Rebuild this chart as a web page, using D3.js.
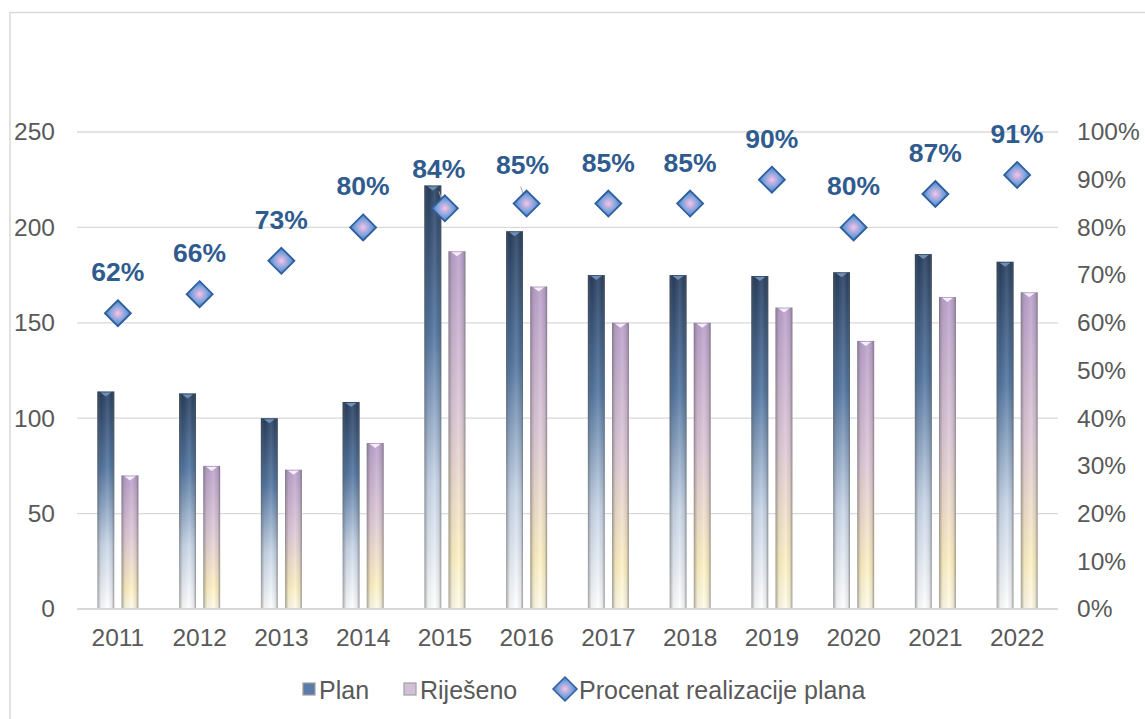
<!DOCTYPE html>
<html>
<head>
<meta charset="utf-8">
<script src="https://cdn.jsdelivr.net/npm/d3@7"></script>
<style>
  body { margin: 0; background: #fff; }
  text { font-family: "Liberation Sans", Arial, sans-serif; }
</style>
</head>
<body>
<div id="chart"></div>
<script>
// data
const years = ["2011", "2012", "2013", "2014", "2015", "2016", "2017", "2018", "2019", "2020", "2021", "2022"];
const plan = [114, 113, 100, 108.5, 222, 198, 175, 175, 174.5, 176.5, 186, 182];
const rijeseno = [70, 75, 73, 87, 187.5, 169, 150, 150, 158, 140.5, 163.5, 166];
const procenat = [62, 66, 73, 80, 84, 85, 85, 85, 90, 80, 87, 91];
const leftTicks = [0, 50, 100, 150, 200, 250];
const rightTicks = [0, 10, 20, 30, 40, 50, 60, 70, 80, 90, 100];

var W = 1145, H = 719;
var margin = {top: 132, right: 87, bottom: 110, left: 77},
    width = W - margin.left - margin.right,
    height = H - margin.top - margin.bottom;

var svg = d3.select("#chart").append("svg")
    .attr("width", W)
    .attr("height", H);

// outer frame (cut off on the right like the original)
svg.append("path")
    .attr("d", "M10," + H + "V12.5H" + W)
    .attr("fill", "none")
    .attr("stroke", "#d9d9d9")
    .attr("stroke-width", 1.5);

var defs = svg.append("defs");

// vertical colour of the bars
var gPlan = defs.append("linearGradient").attr("id", "gPlan")
    .attr("x1", 0).attr("y1", 0).attr("x2", 0).attr("y2", 1);
gPlan.append("stop").attr("offset", "0%").attr("stop-color", "#1d3557");
gPlan.append("stop").attr("offset", "35%").attr("stop-color", "#4a6f9c");
gPlan.append("stop").attr("offset", "70%").attr("stop-color", "#c5d3e6");
gPlan.append("stop").attr("offset", "100%").attr("stop-color", "#ffffff");

var gRij = defs.append("linearGradient").attr("id", "gRij")
    .attr("x1", 0).attr("y1", 0).attr("x2", 0).attr("y2", 1);
gRij.append("stop").attr("offset", "0%").attr("stop-color", "#b79cc9");
gRij.append("stop").attr("offset", "45%").attr("stop-color", "#dcc6d6");
gRij.append("stop").attr("offset", "85%").attr("stop-color", "#fdf0c0");
gRij.append("stop").attr("offset", "100%").attr("stop-color", "#fffbe8");

// side shading, gives the round look
var gSide = defs.append("linearGradient").attr("id", "gSide")
    .attr("x1", 0).attr("y1", 0).attr("x2", 1).attr("y2", 0);
gSide.append("stop").attr("offset", "0%").attr("stop-color", "#555").attr("stop-opacity", 0.55);
gSide.append("stop").attr("offset", "22%").attr("stop-color", "#777").attr("stop-opacity", 0.1);
gSide.append("stop").attr("offset", "60%").attr("stop-color", "#fff").attr("stop-opacity", 0.15);
gSide.append("stop").attr("offset", "85%").attr("stop-color", "#777").attr("stop-opacity", 0.15);
gSide.append("stop").attr("offset", "100%").attr("stop-color", "#555").attr("stop-opacity", 0.6);

// diamond fill, blue with a pink middle
var gDia = defs.append("radialGradient").attr("id", "gDia");
gDia.append("stop").attr("offset", "0%").attr("stop-color", "#f0c8ea");
gDia.append("stop").attr("offset", "25%").attr("stop-color", "#c7b3e2");
gDia.append("stop").attr("offset", "60%").attr("stop-color", "#7ea3dc");
gDia.append("stop").attr("offset", "100%").attr("stop-color", "#4a7fc6");

var g = svg.append("g")
    .attr("transform", "translate(" + margin.left + "," + margin.top + ")");

var x = d3.scaleBand()
    .domain(years)
    .range([0, width]);
var x1 = d3.scaleBand()
    .domain(["plan", "rij"])
    .range([0, 41])
    .paddingInner(0.3);
var y = d3.scaleLinear().domain([0, 250]).range([height, 0]);
var y2 = d3.scaleLinear().domain([0, 100]).range([height, 0]);

// gridlines
g.selectAll(".grid")
    .data(leftTicks.slice(1))
    .enter().append("line")
    .attr("x1", 0).attr("x2", width)
    .attr("y1", d => y(d)).attr("y2", d => y(d))
    .attr("stroke", "#d9d9d9")
    .attr("stroke-width", 1.3);

// left axis
var yAxis = g.append("g")
    .call(d3.axisLeft(y).tickValues(leftTicks).tickSize(0).tickPadding(22));
yAxis.select(".domain").remove();
yAxis.selectAll("text")
    .attr("fill", "#595959")
    .style("font-size", "24.5px");

// right axis
var yAxis2 = g.append("g")
    .attr("transform", "translate(" + width + ",0)")
    .call(d3.axisRight(y2).tickValues(rightTicks).tickSize(0).tickPadding(19)
        .tickFormat(d => d + "%"));
yAxis2.select(".domain").remove();
yAxis2.selectAll("text")
    .attr("fill", "#595959")
    .style("font-size", "24.5px");

// bars
var series = [
    {key: "plan", values: plan, fill: "url(#gPlan)"},
    {key: "rij", values: rijeseno, fill: "url(#gRij)"}
];
var bw = x1.bandwidth();

series.forEach(function (s) {
    var grp = g.append("g").attr("class", "bars-" + s.key);
    var xs = (d, i) => x(years[i]) + x.bandwidth() / 2 - 20.5 + x1(s.key);
    grp.selectAll(".bar")
        .data(s.values)
        .enter().append("rect")
        .attr("class", "bar")
        .attr("x", xs)
        .attr("y", d => y(d))
        .attr("width", bw)
        .attr("height", d => height - y(d))
        .attr("fill", s.fill);
    grp.selectAll(".side")
        .data(s.values)
        .enter().append("rect")
        .attr("x", xs)
        .attr("y", d => y(d))
        .attr("width", bw)
        .attr("height", d => height - y(d))
        .attr("fill", "url(#gSide)");
    // small light notch on the top
    grp.selectAll(".cap")
        .data(s.values)
        .enter().append("path")
        .attr("d", (d, i) => {
            var x0 = xs(d, i), y0 = y(d);
            return "M" + (x0 + 3) + "," + (y0 + 1) + "L" + (x0 + bw / 2) + "," + (y0 + 5) +
                "L" + (x0 + bw - 3) + "," + (y0 + 1) + "Z";
        })
        .attr("fill", s.key === "plan" ? "#6f8fb8" : "#f4eef8");
});

// baseline
g.append("line")
    .attr("x1", 0).attr("x2", width)
    .attr("y1", height).attr("y2", height)
    .attr("stroke", "#d9d9d9")
    .attr("stroke-width", 2);

// x axis
var xAxis = g.append("g")
    .attr("transform", "translate(0," + height + ")")
    .call(d3.axisBottom(x).tickSize(0).tickPadding(20));
xAxis.select(".domain").remove();
xAxis.selectAll("text")
    .attr("fill", "#595959")
    .style("font-size", "24.5px");

// leader lines for moved labels (2015, 2016)
[4, 5].forEach(function (i) {
    var cx = x(years[i]) + x.bandwidth() / 2, cy = y2(procenat[i]);
    g.append("line")
        .attr("x1", cx - 6).attr("y1", cy - 17)
        .attr("x2", cx).attr("y2", cy)
        .attr("stroke", "#a6a6a6")
        .attr("stroke-width", 1);
});

// diamonds
var dia = "M0,-13L13,0L0,13L-13,0Z";
g.selectAll(".dia")
    .data(procenat)
    .enter().append("path")
    .attr("class", "dia")
    .attr("transform", (d, i) => "translate(" + (x(years[i]) + x.bandwidth() / 2) + "," + y2(d) + ")")
    .attr("d", dia)
    .attr("fill", "url(#gDia)")
    .attr("stroke", "#2d5f9e")
    .attr("stroke-width", 1.8);

// percentage labels
g.selectAll(".lbl")
    .data(procenat)
    .enter().append("text")
    .attr("class", "lbl")
    .attr("x", (d, i) => x(years[i]) + x.bandwidth() / 2 - (i === 4 ? 6 : i === 5 ? 4 : 0))
    .attr("y", (d, i) => y2(d) - (i === 4 || i === 5 ? 30 : 32))
    .attr("text-anchor", "middle")
    .attr("fill", "#2f5b8f")
    .style("font-size", "26.5px")
    .style("font-weight", "bold")
    .text(d => d + "%");

// legend
var legend = svg.append("g").attr("transform", "translate(0,690)");
var items = [
    {label: "Plan", x: 302, type: "plan"},
    {label: "Riješeno", x: 403, type: "rij"},
    {label: "Procenat realizacije plana", x: 553, type: "dia"}
];
items.forEach(function (it) {
    if (it.type === "dia") {
        legend.append("path")
            .attr("transform", "translate(" + (it.x + 12) + ",-1)")
            .attr("d", "M0,-12L12,0L0,12L-12,0Z")
            .attr("fill", "url(#gDia)")
            .attr("stroke", "#2d5f9e")
            .attr("stroke-width", 1.5);
    } else {
        legend.append("rect")
            .attr("x", it.x + 1).attr("y", -7)
            .attr("width", 12).attr("height", 12)
            .attr("fill", it.type === "plan" ? "#5b7ca6" : "#d2c0d6")
            .attr("stroke", "#a0a0a0")
            .attr("stroke-width", 1.2);
    }
    legend.append("text")
        .attr("x", it.type === "dia" ? it.x + 26 : it.x + 17)
        .attr("y", 0)
        .attr("dy", "0.35em")
        .attr("fill", "#595959")
        .style("font-size", "25px")
        .text(it.label);
});
</script>
</body>
</html>
